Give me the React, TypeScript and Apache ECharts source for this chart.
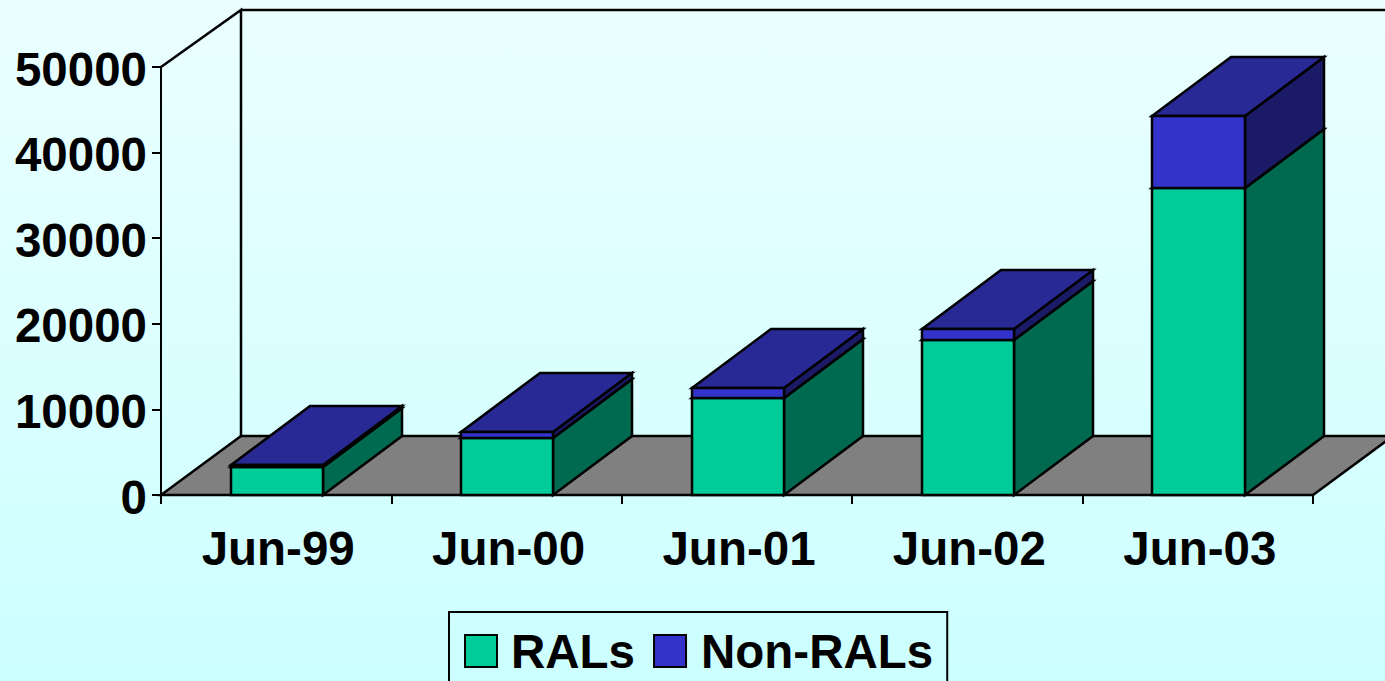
import React, { useEffect, useRef } from "react";
import * as echarts from "echarts";

const categories = ["Jun-99", "Jun-00", "Jun-01", "Jun-02", "Jun-03"];
const rals = [3270, 6660, 11330, 18100, 35860];
const nonRals = [230, 700, 1170, 1300, 8420];

const DEPTH_X = 79;
const DEPTH_Y = 59;
const BAR_RATIO = 0.4;
const INK = "#000000";
const FONT = "'Liberation Sans', Arial, sans-serif";
const FONT_SIZE = 47.5;
const LINE = 2.5;

const RAL_COLORS = { front: "#00CC99", side: "#006A50", top: "#006A50" };
const NON_COLORS = { front: "#3333CC", side: "#1A1A66", top: "#292996" };

function box(api: any, colors: { front: string; side: string; top: string }) {
  const cat = api.value(0);
  const [cx, yA] = api.coord([cat, api.value(1)]);
  const [, yB] = api.coord([cat, api.value(2)]);
  const w = api.size([1, 0])[0] * BAR_RATIO;
  const l = Math.round(cx - w / 2 + 0.7);
  const r = Math.round(cx + w / 2 + 0.7);
  const y0 = Math.round(yA);
  const y1 = Math.round(yB);
  const stroke = { stroke: INK, lineWidth: LINE, lineJoin: "miter" };
  const poly = (points: number[][], fill: string) => ({
    type: "polygon",
    shape: { points },
    style: { fill, ...stroke },
  });
  return {
    type: "group",
    children: [
      poly([[r, y0], [r + DEPTH_X, y0 - DEPTH_Y], [r + DEPTH_X, y1 - DEPTH_Y], [r, y1]], colors.side),
      poly([[l, y1], [r, y1], [r + DEPTH_X, y1 - DEPTH_Y], [l + DEPTH_X, y1 - DEPTH_Y]], colors.top),
      poly([[l, y0], [r, y0], [r, y1], [l, y1]], colors.front),
    ],
  };
}

function walls(api: any) {
  const band = api.size([1, 0])[0];
  const [c0, yBase] = api.coord([0, 0]);
  const [, yTop] = api.coord([0, 50000]);
  const [cN] = api.coord([categories.length - 1, 0]);
  const xl = Math.round(c0 - band / 2);
  const xr = Math.round(cN + band / 2);
  const y0 = Math.round(yBase);
  const yMax = Math.round(yTop);
  const line = { stroke: INK, lineWidth: LINE, fill: "none" };
  return {
    type: "group",
    children: [
      {
        type: "polygon",
        shape: {
          points: [[xl, y0], [xl + DEPTH_X + 1, y0 - DEPTH_Y], [xr + DEPTH_X + 1, y0 - DEPTH_Y], [xr, y0]],
        },
        style: { fill: "#808080", stroke: INK, lineWidth: LINE },
      },
      {
        type: "polyline",
        shape: {
          points: [[xl, yMax], [xl + DEPTH_X + 1, yMax - 57], [xl + DEPTH_X + 1, y0 - DEPTH_Y]],
        },
        style: line,
      },
      {
        type: "line",
        shape: { x1: xl + DEPTH_X + 1, y1: yMax - 57, x2: xr + DEPTH_X + 1, y2: yMax - 57 },
        style: line,
      },
    ],
  };
}

export default function App() {
  const ref = useRef<HTMLDivElement>(null);
  useEffect(() => {
    const chart = echarts.init(ref.current!, undefined, { renderer: "svg" });
    chart.setOption({
      animation: false,
      backgroundColor: {
        type: "linear", x: 0, y: 0, x2: 0, y2: 1,
        colorStops: [
          { offset: 0, color: "#EBFFFF" },
          { offset: 1, color: "#CCFFFF" },
        ],
      },
      grid: { left: 161, right: 72, top: 67, bottom: 186, containLabel: false, outerBoundsMode: "none" },
      xAxis: {
        type: "category",
        data: categories,
        axisLine: { show: true, lineStyle: { color: INK, width: 2 } },
        axisTick: { show: true, length: 9, lineStyle: { color: INK, width: 2 }, alignWithLabel: false },
        axisLabel: {
          color: INK, fontFamily: FONT, fontWeight: "bold", fontSize: FONT_SIZE, margin: 29,
          padding: [0, 0, 0, 4],
        },
      },
      yAxis: {
        type: "value",
        min: 0,
        max: 50000,
        interval: 10000,
        splitLine: { show: false },
        axisLine: { show: true, lineStyle: { color: INK, width: 2 } },
        axisTick: { show: true, length: 9, lineStyle: { color: INK, width: 2 } },
        axisLabel: {
          color: INK, fontFamily: FONT, fontWeight: "bold", fontSize: FONT_SIZE, margin: 14,
          verticalAlign: "top",
          lineHeight: 4,
          formatter: (v: number) => String(v),
        },
      },
      legend: {
        left: 449,
        top: 612,
        orient: "horizontal",
        backgroundColor: "transparent",
        borderColor: INK,
        borderWidth: 2,
        padding: [15, 14, 16, 15],
        itemWidth: 32,
        itemHeight: 32,
        itemGap: 18,
        textStyle: { color: INK, fontFamily: FONT, fontWeight: "bold", fontSize: FONT_SIZE, padding: [0, 0, 0, 9] },
        selectedMode: false,
        data: [
          { name: "RALs", icon: "rect", itemStyle: { color: RAL_COLORS.front, borderColor: INK, borderWidth: 2 } },
          {
            name: "Non-RALs",
            icon: "rect",
            itemStyle: { color: NON_COLORS.front, borderColor: INK, borderWidth: 2 },
            textStyle: { padding: [0, 0, 0, 10] },
          },
        ],
      },
      series: [
        {
          name: "walls",
          type: "custom",
          z: 1,
          silent: true,
          clip: false,
          data: [[0]],
          renderItem: (_p: any, api: any) => walls(api),
        },
        {
          name: "RALs",
          type: "custom",
          z: 3,
          clip: false,
          itemStyle: { color: RAL_COLORS.front },
          encode: { x: 0, y: [1, 2] },
          data: rals.map((v, i) => [i, 0, v]),
          renderItem: (_p: any, api: any) => box(api, RAL_COLORS),
        },
        {
          name: "Non-RALs",
          type: "custom",
          z: 4,
          clip: false,
          itemStyle: { color: NON_COLORS.front },
          encode: { x: 0, y: [1, 2] },
          data: nonRals.map((v, i) => [i, rals[i], rals[i] + v]),
          renderItem: (_p: any, api: any) => box(api, NON_COLORS),
        },
      ],
    });
    return () => chart.dispose();
  }, []);
  return <div ref={ref} style={{ position: "fixed", left: 0, top: 0, width: 1385, height: 681 }} />;
}
